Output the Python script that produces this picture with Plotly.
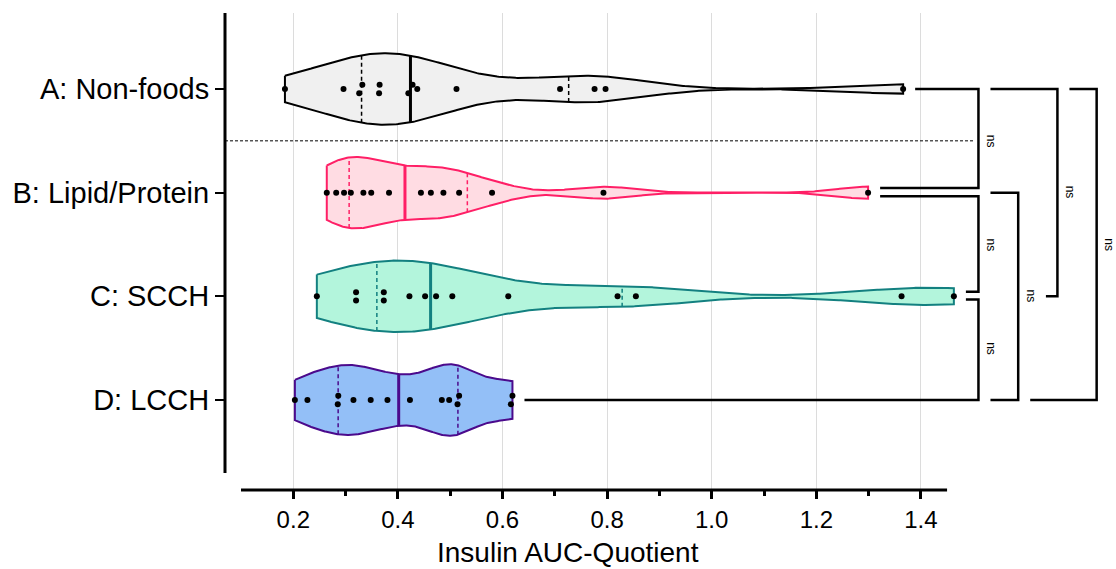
import numpy as np
import plotly.graph_objects as go

# ---------------- data ----------------
categories = ["A: Non-foods", "B: Lipid/Protein", "C: SCCH", "D: LCCH"]
vals_A = [0.184, 0.296, 0.326, 0.332, 0.364, 0.365, 0.420, 0.428, 0.437, 0.512, 0.710, 0.776, 0.797, 1.366]
vals_B = [0.264, 0.282, 0.297, 0.310, 0.334, 0.349, 0.383, 0.444, 0.463, 0.487, 0.517, 0.580, 0.793, 1.299]
vals_C = [0.245, 0.320, 0.320, 0.373, 0.373, 0.422, 0.452, 0.473, 0.504, 0.611, 0.820, 0.855, 1.363, 1.463]
vals_D = [0.203, 0.227, 0.285, 0.286, 0.315, 0.348, 0.380, 0.423, 0.484, 0.498, 0.514, 0.517, 0.616, 0.619]
line_colors = ["#000000", "#ff1f66", "#138080", "#4b0a8c"]
fill_colors = ["#f0f0f0", "#ffdce3", "#b3f5dc", "#93bff7"]
x_tick_vals = [0.2, 0.4, 0.6, 0.8, 1.0, 1.2, 1.4]
x_tick_text = ["0.2", "0.4", "0.6", "0.8", "1.0", "1.2", "1.4"]
x_minor_vals = [0.3, 0.5, 0.7, 0.9, 1.1, 1.3]
comparisons = [("A", "B"), ("B", "C"), ("C", "D"), ("B", "D"), ("A", "C"), ("A", "D")]
comparison_labels = ["ns", "ns", "ns", "ns", "ns", "ns"]

groups = [vals_A, vals_B, vals_C, vals_D]
ypos = [3, 2, 1, 0]
HALF = 0.345
FONT = "Liberation Sans, Arial, sans-serif"


def density(v, grid):
    v = np.asarray(v, float)
    n = len(v)
    sd = v.std(ddof=1)
    q1, q3 = np.percentile(v, [25, 75], method="weibull")
    h = 0.585 * min(sd, (q3 - q1) / 1.34) * n ** -0.2
    return np.exp(-0.5 * ((grid[:, None] - v[None, :]) / h) ** 2).sum(1)


def offsets(v):
    v = np.sort(np.asarray(v, float))
    off = np.zeros(len(v))
    i = 0
    while i < len(v) - 1:
        if v[i + 1] - v[i] < 0.01:
            off[i] = -0.04
            off[i + 1] = 0.04
            i += 2
        else:
            i += 1
    return v, off


fig = go.Figure()

for vals, yc, lc, fc in zip(groups, ypos, line_colors, fill_colors):
    v = np.asarray(vals, float)
    grid = np.linspace(v.min(), v.max(), 400)
    d = density(v, grid)
    w = HALF * d / d.max()
    xs = np.concatenate([grid, grid[::-1], grid[:1]])
    ys = np.concatenate([yc + w, (yc - w)[::-1], [yc + w[0]]])
    fig.add_trace(go.Scatter(x=xs, y=ys, mode="lines", fill="toself", fillcolor=fc,
                             line=dict(color=lc, width=2), hoverinfo="skip", showlegend=False))
    q1, med, q3 = np.percentile(v, [25, 50, 75], method="weibull")
    for q, dash, lw in [(q1, "dash", 1.5), (q3, "dash", 1.5), (med, "solid", 3)]:
        wq = np.interp(q, grid, w)
        fig.add_trace(go.Scatter(x=[q, q], y=[yc - wq, yc + wq], mode="lines",
                                 line=dict(color=lc, width=lw, dash=dash if dash == "solid" else "4px,3px"),
                                 hoverinfo="skip", showlegend=False))
    sv, off = offsets(v)
    fig.add_trace(go.Scatter(x=sv, y=yc + off, mode="markers",
                             marker=dict(color="black", size=6), showlegend=False))

# ---------------- decorations ----------------
shapes = []
# y axis line
shapes.append(dict(type="line", xref="paper", yref="y", x0=0, x1=0, y0=-0.704, y1=3.733,
                   line=dict(color="black", width=3)))
# x axis line
shapes.append(dict(type="line", xref="x", yref="paper", x0=0.1, x1=1.45, y0=0, y1=0,
                   line=dict(color="black", width=3)))
# separator
shapes.append(dict(type="line", xref="paper", yref="y", x0=0, x1=(1.50 - 0.0694) / (1.773 - 0.0694),
                   y0=2.5, y1=2.5, line=dict(color="black", width=1, dash="3px,2px")))

ymap = dict(zip(["A", "B", "C", "D"], ypos))
gmax = dict(zip(["A", "B", "C", "D"], [max(g) for g in groups]))
gap = 0.023
# bracket geometry: (start1, yoff1, start2, yoff2, vertical x)
geom = [
    (gmax["A"] + gap, 0.0, gmax["B"] + gap, 0.045, 1.510),
    (gmax["B"] + gap, -0.035, gmax["C"] + gap, 0.045, 1.510),
    (gmax["C"] + gap, -0.03, gmax["D"] + gap, 0.0, 1.510),
    (1.533, 0.0, 1.533, 0.0, 1.586),
    (1.533, 0.0, 1.639, 0.0, 1.661),
    (1.684, 0.0, 1.609, 0.0, 1.736),
]
annotations = []
for (g1, g2), lab, (s1, o1, s2, o2, vx) in zip(comparisons, comparison_labels, geom):
    y1 = ymap[g1] + o1
    y2 = ymap[g2] + o2
    shapes.append(dict(type="path", xref="x", yref="y",
                       path=f"M {s1},{y1} L {vx},{y1} L {vx},{y2} L {s2},{y2}",
                       line=dict(color="black", width=2.5)))
    annotations.append(dict(x=vx + 0.024, y=(ymap[g1] + ymap[g2]) / 2, xref="x", yref="y",
                            text=lab, textangle=90, showarrow=False,
                            font=dict(family=FONT, size=12, color="black")))

annotations.append(dict(x=0.725, y=-0.13, xref="x", yref="paper", text="Insulin AUC-Quotient",
                        showarrow=False, yanchor="middle", xanchor="center",
                        font=dict(family=FONT, size=28, color="black")))

fig.update_layout(
    width=1116, height=569,
    margin=dict(l=225, r=0, t=13, b=79),
    plot_bgcolor="white", paper_bgcolor="white",
    shapes=shapes, annotations=annotations,
    font=dict(family=FONT, color="black"),
    xaxis=dict(range=[0.0694, 1.773], tickvals=x_tick_vals, ticktext=x_tick_text,
               showgrid=True, gridcolor="#dcdcdc", gridwidth=1, zeroline=False, showline=False,
               ticks="outside", ticklen=8, tickwidth=2.5, tickcolor="black",
               tickfont=dict(family=FONT, size=24, color="black"),
               minor=dict(tickvals=x_minor_vals, ticks="outside", ticklen=5, tickwidth=2.5,
                          tickcolor="black", showgrid=False)),
    yaxis=dict(range=[-0.868, 3.733], tickvals=ypos, ticktext=categories,
               showgrid=False, zeroline=False, showline=False,
               ticks="outside", ticklen=9, tickwidth=2, tickcolor="black",
               tickfont=dict(family=FONT, size=29, color="black")),
)

fig.write_html("out.html")
